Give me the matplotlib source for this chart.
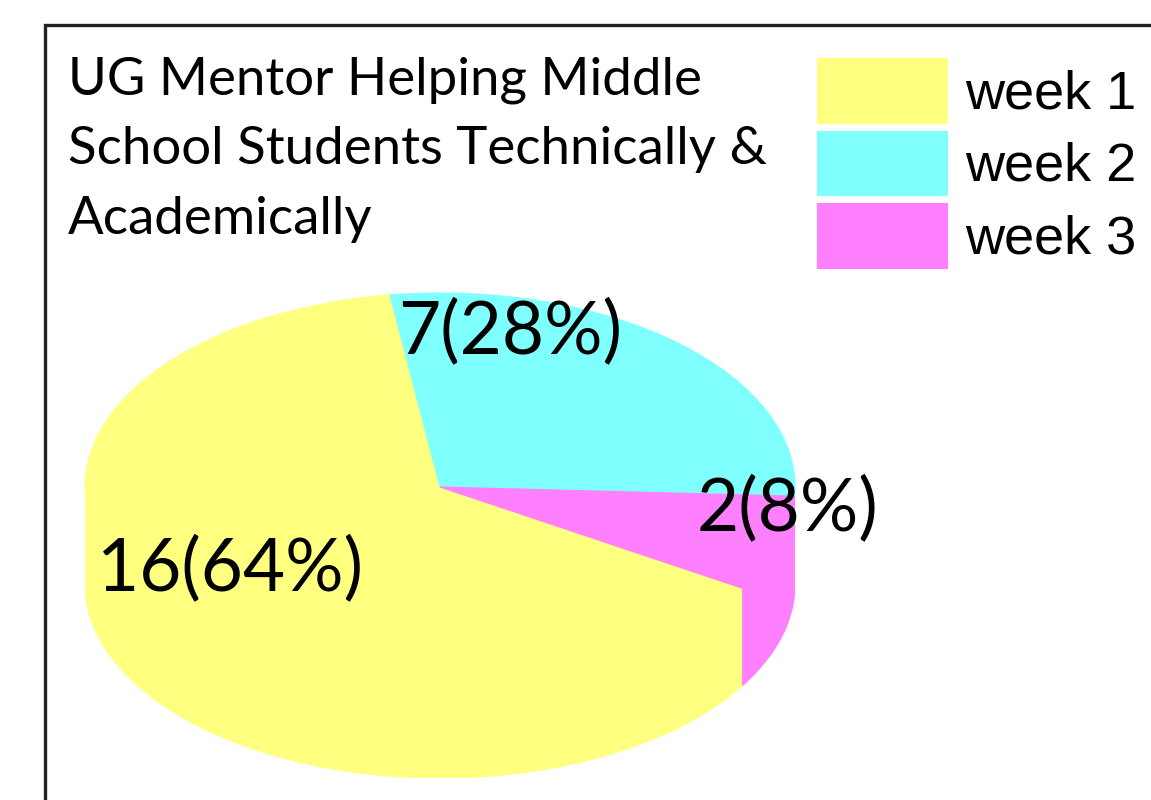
import numpy as np
import matplotlib
matplotlib.use("Agg")
import matplotlib.pyplot as plt
from matplotlib.patches import Rectangle

# ---- data ----
categories = ["week 1", "week 2", "week 3"]
counts = [16, 7, 2]
colors = ["#FFFF80", "#80FFFF", "#FF80FF"]
title = "UG Mentor Helping Middle\nSchool Students Technically &\nAcademically"

W, H = 1151, 800
fig = plt.figure(figsize=(W / 100, H / 100), dpi=100)
fig.patch.set_facecolor("white")

def fx(px):
    return px / W

def fy(py):
    return 1 - py / H

# frame
fig.patches.append(Rectangle((fx(45), fy(830)), fx(1200) - fx(45), fy(25) - fy(830),
                             transform=fig.transFigure, fill=False,
                             edgecolor="#222222", linewidth=2.4, zorder=0))

# pie axes (elliptical top surface + side wall)
depth = 0.5
left_px, right_px, top_px, bot_px = 85, 795, 293, 778
ax = fig.add_axes([fx(left_px), fy(bot_px), fx(right_px) - fx(left_px), fy(top_px) - fy(bot_px)])

wedges, _ = ax.pie(counts, colors=colors, startangle=-31.5, counterclock=False,
                   radius=1, center=(0, 0), frame=True,
                   wedgeprops=dict(linewidth=0.8, antialiased=True))
for w, c in zip(wedges, colors):
    w.set_zorder(3)
    w.set_edgecolor(c)

# side walls from wedge angles
for w, c in zip(wedges, colors):
    a, b = w.theta1, w.theta2
    for k in range(-2, 3):
        lo = max(a, -180 + 360 * k)
        hi = min(b, 0 + 360 * k)
        if hi > lo:
            t = np.radians(np.linspace(lo, hi, 200))
            xs = np.concatenate([np.cos(t), np.cos(t[::-1])])
            ys = np.concatenate([np.sin(t) + 0.02, np.sin(t[::-1]) - depth])
            ax.fill(xs, ys, facecolor=c, edgecolor=c, linewidth=0.8, zorder=2)

ax.set_aspect("auto")
ax.set_xlim(-1, 1)
ax.set_ylim(-1 - depth, 1)
ax.axis("off")

# value labels
total = sum(counts)
label_pos_px = [(230, 570), (510, 333), (787, 510)]
for n, (px, py) in zip(counts, label_pos_px):
    fig.text(fx(px), fy(py), f"{n}({round(100 * n / total)}%)", ha="center", va="center",
             fontsize=52.5, family="Lato", color="black", zorder=5)

# title
fig.text(fx(68), fy(56), title, ha="left", va="top", fontsize=38, family="Lato",
         linespacing=1.6, color="black")

# legend
fig.legend(wedges, categories, loc="upper left", bbox_to_anchor=(fx(817), fy(58)),
           frameon=False, borderpad=0, borderaxespad=0,
           prop=dict(family="Liberation Sans", size=39),
           handlelength=2.4, handleheight=1.46, labelspacing=0.145, handletextpad=0.33)

fig.savefig("out.png", dpi=100)
